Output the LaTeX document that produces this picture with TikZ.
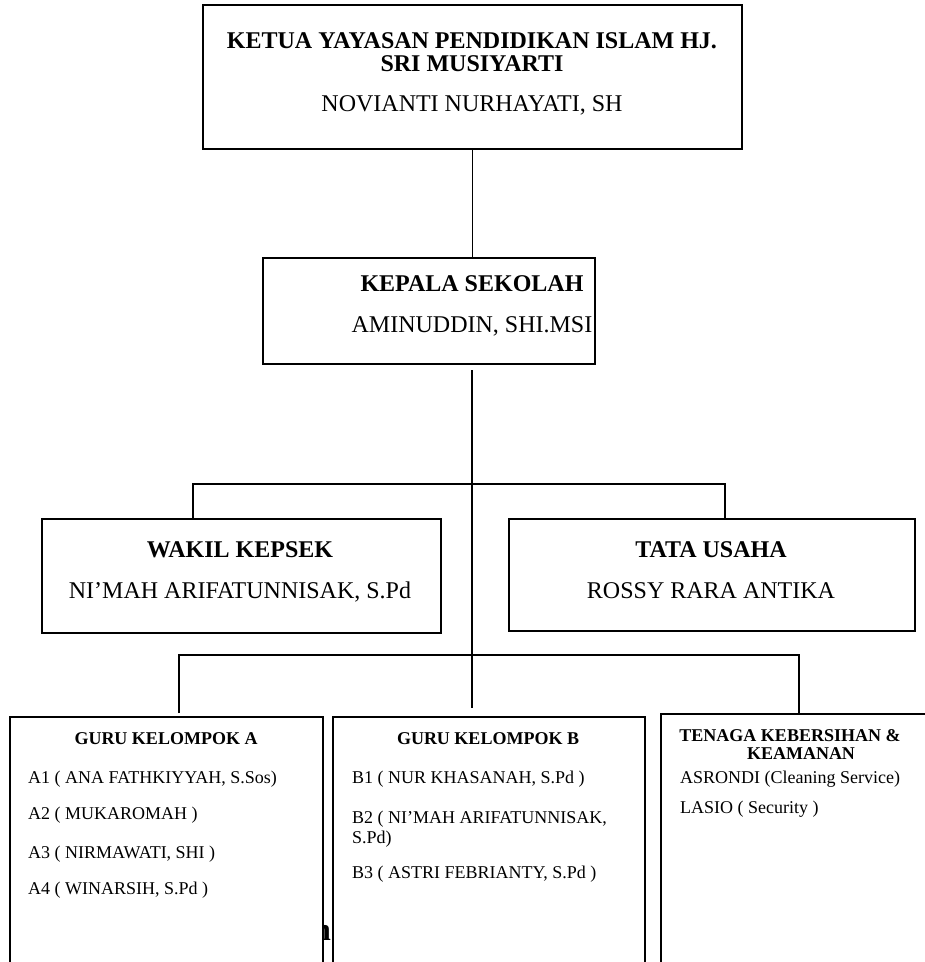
\documentclass[tikz,border=0pt]{standalone}
\usepackage{fontspec}
\setmainfont{Liberation Serif}
\begin{document}
\begin{tikzpicture}[x=1pt,y=-1pt,
  box/.style={draw, line width=1.6pt, fill=white, anchor=north west, inner sep=0pt},
  link/.style={draw, line width=1.3pt},
  hd/.style={font=\fontsize{24pt}{28pt}\selectfont\bfseries, anchor=base, inner sep=0pt},
  nm/.style={font=\fontsize{24pt}{28pt}\selectfont, anchor=base, inner sep=0pt},
  shd/.style={font=\fontsize{18pt}{21pt}\selectfont\bfseries, anchor=base, inner sep=0pt},
  item/.style={font=\fontsize{18pt}{21pt}\selectfont, anchor=base west, inner sep=0pt}]
\clip (0,0) rectangle (925,962);
% stray glyph partly hidden behind the boxes
\node[font=\fontsize{32pt}{36pt}\selectfont\bfseries, anchor=base, inner sep=0pt] (stray) at (322,940) {n};
% boxes
\node[box, minimum width=539pt, minimum height=144pt] (ketua) at (202,4) {};
\node[box, minimum width=332pt, minimum height=106pt] (kepala) at (262,257) {};
\node[box, minimum width=399pt, minimum height=114pt] (wakil) at (41,518) {};
\node[box, minimum width=406pt, minimum height=112pt] (tata) at (508,518) {};
\node[box, minimum width=313pt, minimum height=270pt] (guruA) at (9,716) {};
\node[box, minimum width=312pt, minimum height=270pt] (guruB) at (332,716) {};
\node[box, minimum width=290pt, minimum height=270pt] (tenaga) at (660,713) {};
% connectors
\coordinate (spinetop) at (472,370);
\coordinate (spinebot) at (472,708);
\coordinate (hl) at (193,484);
\coordinate (hr) at (725,484);
\coordinate (gl) at (179,655);
\coordinate (gr) at (799,655);
\draw[link] (ketua.south) -- (ketua.south |- kepala.north);
\draw[link] (spinetop) -- (spinebot);
\draw[link] (wakil.north -| hl) -- (hl) -- (hr) -- (tata.north -| hr);
\draw[link] ([yshift=3pt]guruA.north -| gl) -- (gl) -- (gr) -- (tenaga.north -| gr);
% texts
\node[hd] (ketuaA) at (472,48) {KETUA YAYASAN PENDIDIKAN ISLAM HJ.};
\node[hd] (ketuaB) at (472,71) {SRI MUSIYARTI};
\node[nm] (ketuaC) at (472,111) {NOVIANTI NURHAYATI, SH};
\node[hd] (kepA) at (472,291) {KEPALA SEKOLAH};
\node[nm] (kepB) at (472,332) {AMINUDDIN, SHI.MSI};
\node[hd] (wakA) at (240,557) {WAKIL KEPSEK};
\node[nm] (wakB) at (240,598) {NI’MAH ARIFATUNNISAK, S.Pd};
\node[hd] (tataA) at (711,557) {TATA USAHA};
\node[nm] (tataB) at (711,598) {ROSSY RARA ANTIKA};
\node[shd] (gaT) at (166,744) {GURU KELOMPOK A};
\node[item] (a1) at (28,783) {A1 ( ANA FATHKIYYAH, S.Sos)};
\node[item] (a2) at (28,819) {A2 ( MUKAROMAH )};
\node[item] (a3) at (28,858) {A3 ( NIRMAWATI, SHI )};
\node[item] (a4) at (28,894) {A4 ( WINARSIH, S.Pd )};
\node[shd] (gbT) at (488,744) {GURU KELOMPOK B};
\node[item] (b1) at (352,783) {B1 ( NUR KHASANAH, S.Pd )};
\node[item] (b2) at (352,823) {B2 ( NI’MAH ARIFATUNNISAK,};
\node[item] (b2b) at (352,843) {S.Pd)};
\node[item] (b3) at (352,878) {B3 ( ASTRI FEBRIANTY, S.Pd )};
\node[shd] (tkT) at (790,741) {TENAGA KEBERSIHAN \&};
\node[shd] (tkT2) at (801,759) {KEAMANAN};
\node[item] (t1) at (680,783) {ASRONDI (Cleaning Service)};
\node[item] (t2) at (680,813) {LASIO ( Security )};
\end{tikzpicture}
\end{document}
